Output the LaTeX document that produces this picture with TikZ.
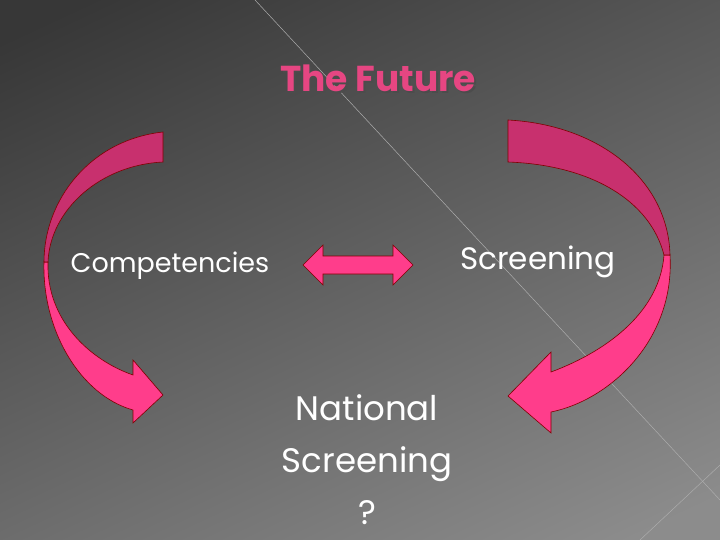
\documentclass[tikz,border=0pt]{standalone}
\usepackage{fontspec}
\setmainfont{Carlito}
\newfontfamily\cg{Poppins}
\begin{document}
\begin{tikzpicture}[x=1pt,y=-1pt,
  lbl/.style={text=white,font=\cg\fontsize{31}{36}\selectfont,inner sep=0pt},
  bright/.style={fill={rgb,255:red,255;green,61;blue,139},draw=red!50!black,line width=0.6pt}]
\definecolor{bgtop}{RGB}{55,55,55}
\definecolor{bgbot}{RGB}{140,140,140}
\definecolor{darkp}{RGB}{200,48,110}
\useasboundingbox (0,0) rectangle (720,540);
\begin{scope}
\clip (0,0) rectangle (720,540);
\shade[shading=axis,top color=bgtop,bottom color=bgbot,shading angle=25] (-60,-60) rectangle (780,600);
\draw[gray!65,line width=0.5pt] (255,0) -- (720,500);
\draw[gray!65,line width=0.5pt] (640,540) -- (720,465);
\end{scope}
% title
\node[text=black!70,font=\cg\bfseries\fontsize{36}{40}\selectfont] at (380,80) {The Future};
\node[text={rgb,255:red,230;green,70;blue,130},font=\cg\bfseries\fontsize{36}{40}\selectfont] (title) at (378,78) {The Future};
% left curved arrow
\path[bright] (44,262) .. controls (42,330) and (80,395) .. (133,410) -- (133,423) -- (163,395) -- (133,360) -- (133,375) .. controls (90,360) and (46,320) .. (48,262) -- cycle;
\path[fill=darkp,draw=red!50!black,line width=0.6pt] (163,132) .. controls (90,140) and (44,200) .. (44,262) -- (48,262) .. controls (50,210) and (100,165) .. (163,162) -- cycle;
% right curved arrow
\path[bright] (670,255) .. controls (675,340) and (610,400) .. (551,412) -- (551,433) -- (508,396) -- (551,352) -- (551,372) .. controls (610,350) and (660,310) .. (664,255) -- cycle;
\path[fill=darkp,draw=red!50!black,line width=0.6pt] (508,120) .. controls (600,125) and (668,180) .. (670,255) -- (664,255) .. controls (650,200) and (590,165) .. (508,162) -- cycle;
% texts
\node[lbl,font=\cg\fontsize{27}{32}\selectfont] (comp) at (170,266) {Competencies};
\node[lbl] (scr) at (538,262) {Screening};
\node[lbl,align=center,font=\cg\fontsize{34}{52}\selectfont] (nat) at (367,460) {National\\Screening\\?};
% double arrow
\path[bright] (303,265) -- (323,245) -- (323,256) -- (393,256) -- (393,245) -- (413,265) -- (393,285) -- (393,274) -- (323,274) -- (323,285) -- cycle;
\end{tikzpicture}
\end{document}
